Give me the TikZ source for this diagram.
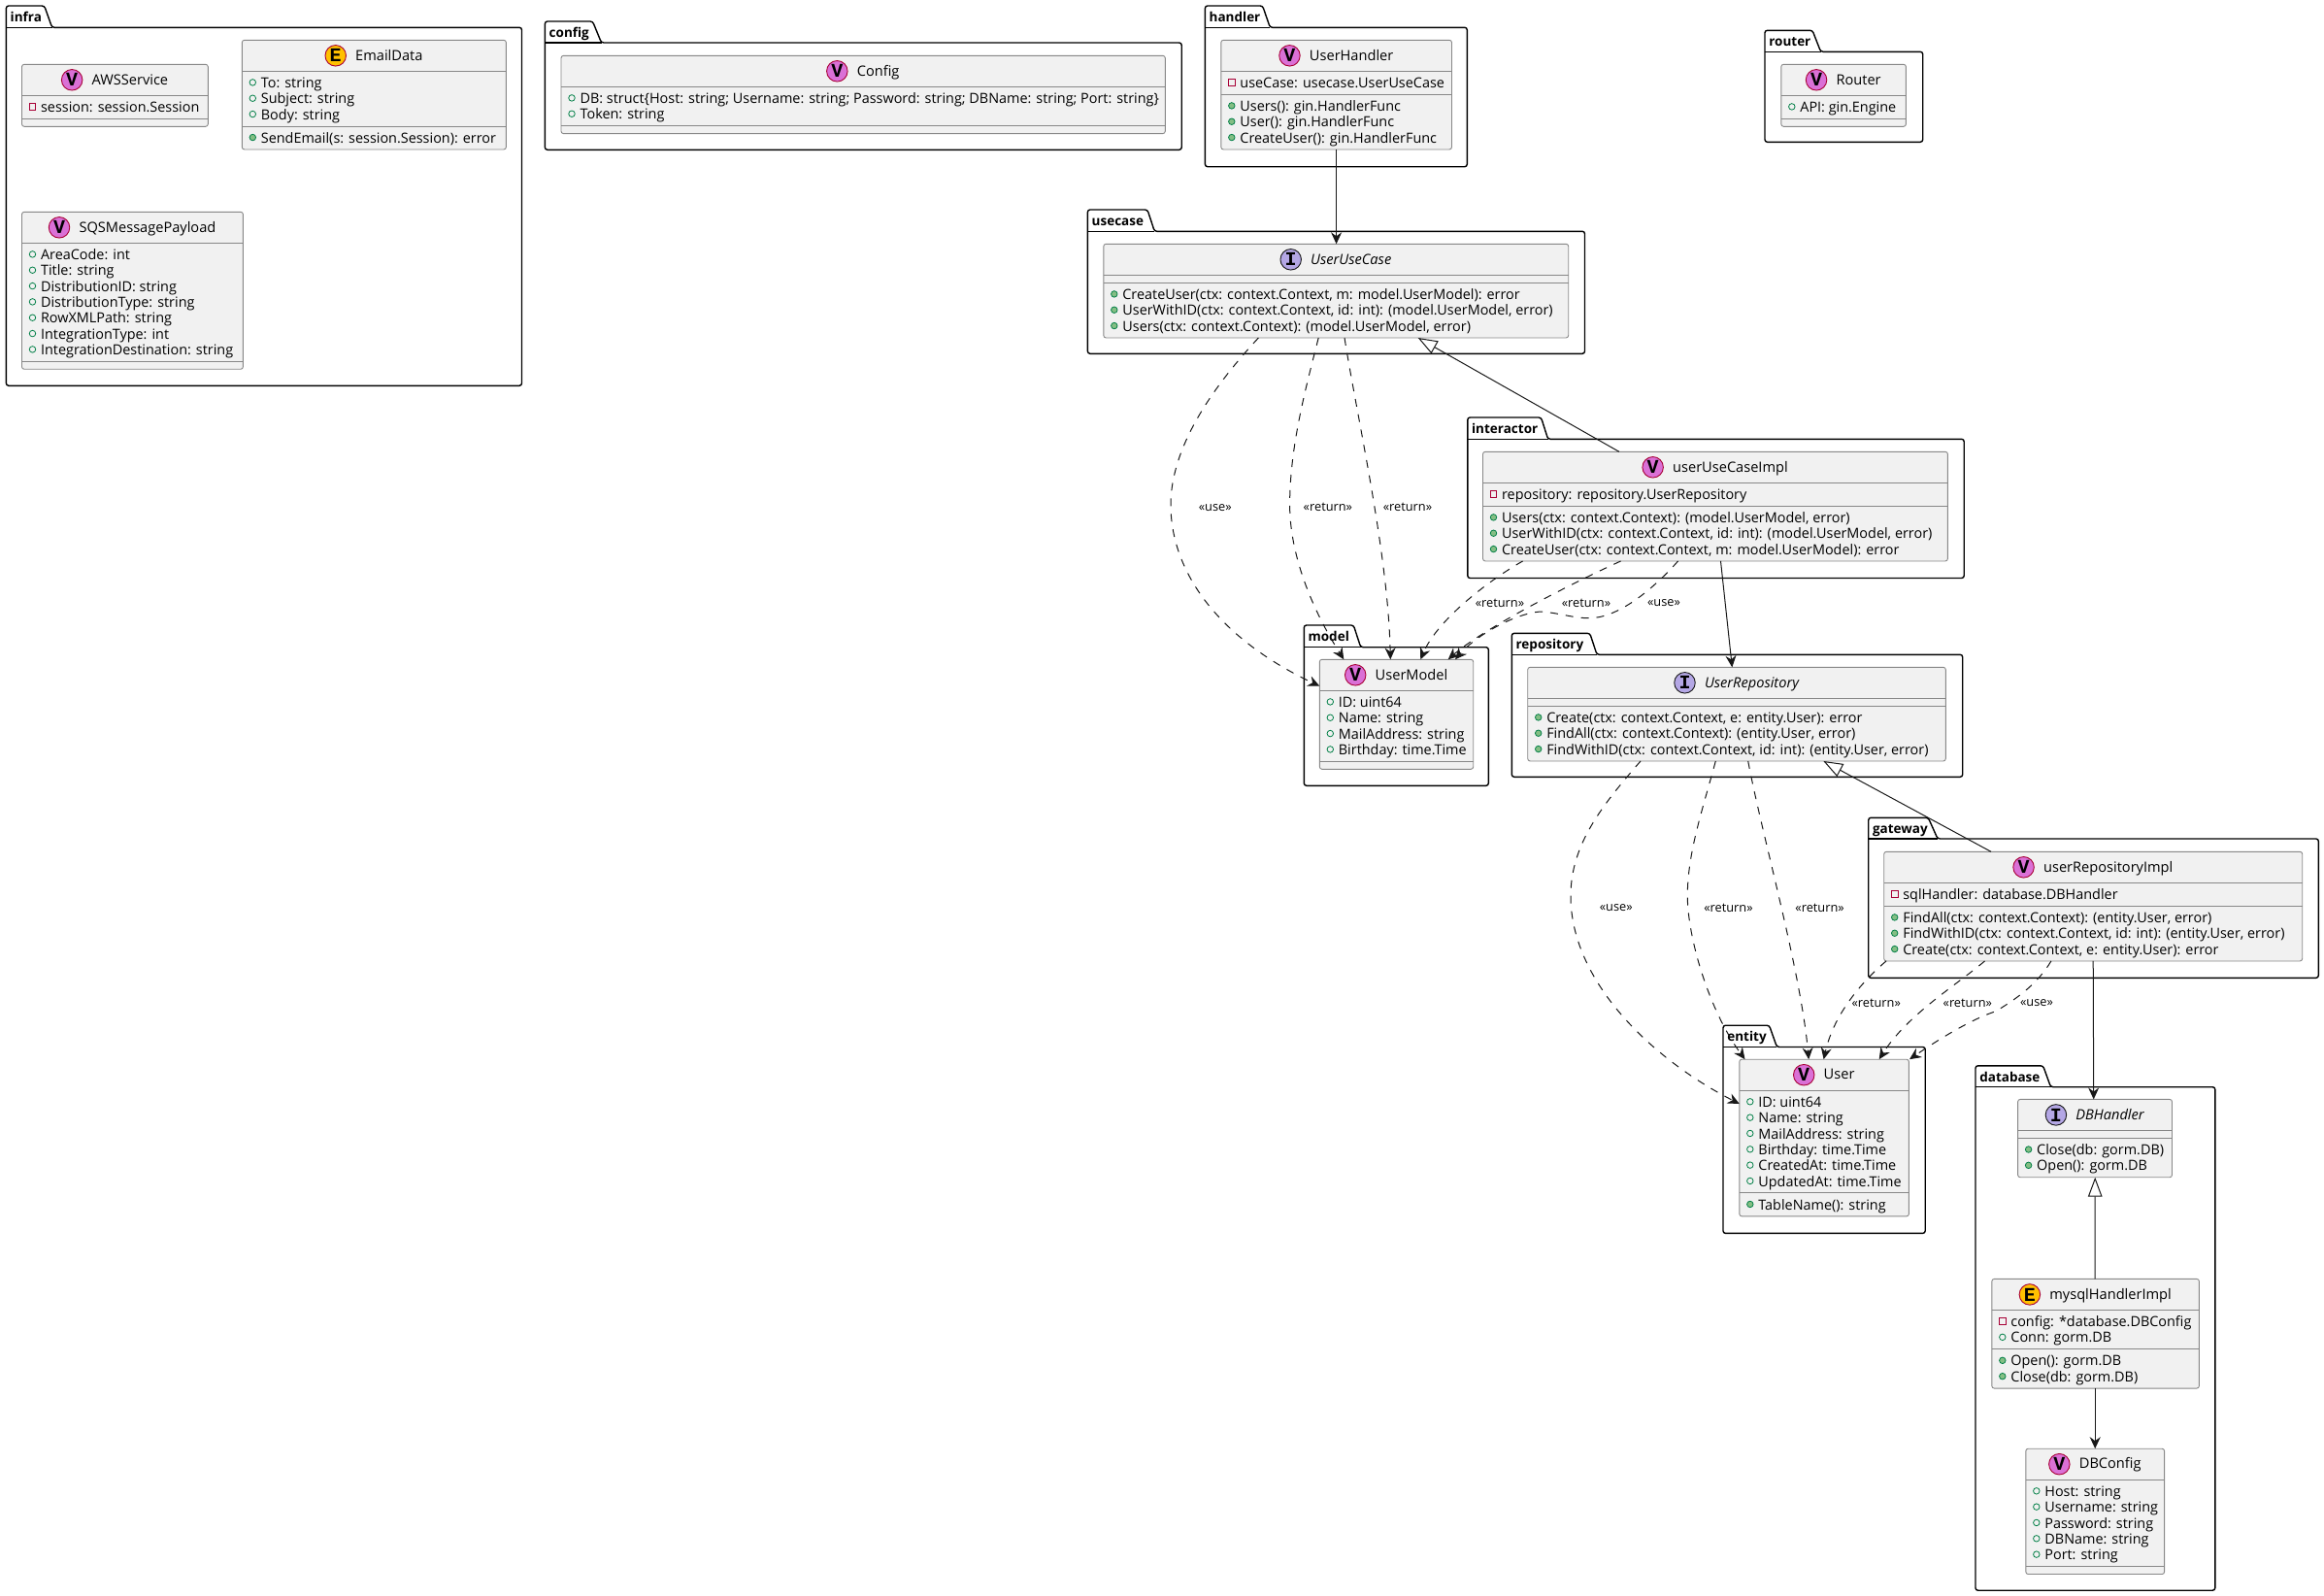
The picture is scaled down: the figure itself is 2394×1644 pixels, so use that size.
\documentclass[tikz,border=0pt]{standalone}
\usepackage{fontspec}
\setmainfont{Open Sans}
\newfontfamily\iconfont{Liberation Mono}
\usetikzlibrary{arrows.meta}
\definecolor{ink}{HTML}{181818}
\definecolor{boxfill}{HTML}{F1F1F1}
\definecolor{boxline}{HTML}{888888}
\definecolor{spotV}{HTML}{DA70D6}
\definecolor{spotE}{HTML}{FFC000}
\definecolor{spotI}{HTML}{B4A7E5}
\definecolor{spotlineV}{HTML}{A80036}
\definecolor{spotlineE}{HTML}{A80036}
\definecolor{spotlineI}{HTML}{181818}
\definecolor{privline}{HTML}{A80036}
\definecolor{publine}{HTML}{038048}
\definecolor{pubfill}{HTML}{84BE84}
\newcommand\memberfont{\fontsize{14.4pt}{16pt}\selectfont}
\newcommand\titlefont{\fontsize{14.6pt}{17pt}\selectfont}
\newcommand\pkgfont{\fontsize{13.5pt}{17pt}\selectfont\bfseries}
\newcommand\tagfont{\fontsize{12.8pt}{14pt}\selectfont}
\tikzset{
  x=1pt,y=-1pt,
  classbox/.style={draw=boxline,fill=boxfill,line width=0.9pt,rounded corners=2.5pt,inner sep=0pt,outer sep=0pt,anchor=north west},
  sepline/.style={draw=boxline,line width=0.9pt},
  spot/.style={circle,line width=0.9pt,minimum size=21.5pt,inner sep=0pt,outer sep=0pt,font=\iconfont\bfseries\fontsize{20pt}{20pt}\selectfont,text=black},
  rowtext/.style={anchor=base west,inner sep=0pt,outer sep=0pt,font=\memberfont,text=black},
  titletext/.style={anchor=base,inner sep=0pt,outer sep=0pt,font=\titlefont,text=black},
  pubfield/.style={circle,draw=publine,line width=0.8pt,minimum size=6.5pt,inner sep=0pt},
  pubmethod/.style={circle,draw=publine,fill=pubfill,line width=0.8pt,minimum size=6.5pt,inner sep=0pt},
  privfield/.style={rectangle,draw=privline,line width=0.8pt,minimum size=6.5pt,inner sep=0pt},
  pkgline/.style={draw=black,line width=1.4pt,rounded corners=2.5pt,fill=white},
  pkgrule/.style={draw=black,line width=1.4pt},
  pkgtext/.style={anchor=base west,inner sep=0pt,outer sep=0pt,font=\pkgfont,text=black},
  tagtext/.style={inner sep=0pt,outer sep=0pt,font=\tagfont,text=black},
  rel/.style={draw=ink,line width=1pt,-{Stealth[length=12pt,width=11pt,inset=4pt]}},
  dep/.style={rel,dash pattern=on 8pt off 8pt},
  inh/.style={draw=ink,line width=1pt,{Triangle[open,fill=white,length=20pt,width=14.6pt]}-},
}
\newcount\rowno
% {name}{x0}{x1}{ytop}{spot letter}{title}{n attrs}{n methods}{rows}
\newcommand\umlclass[9]{%
  \pgfmathsetmacro\cxa{#2}\pgfmathsetmacro\cxb{#3}\pgfmathsetmacro\cyt{#4}%
  \pgfmathsetmacro\cyh{\cyt+32}%
  \pgfmathsetmacro\cys{\cyh+(#7==0?8:#7*16.33+7.67)}%
  \pgfmathsetmacro\cyb{\cys+(#8==0?8:#8*16.33+7.67)}%
  \pgfmathsetmacro\cw{\cxb-\cxa}\pgfmathsetmacro\ch{\cyb-\cyt}%
  \xdef\cname{#1}\global\rowno=0
  \node[classbox,minimum width=\cw pt,minimum height=\ch pt] (#1) at (\cxa,\cyt) {};
  \draw[sepline] (\cxa,\cyh) -- (\cxb,\cyh);
  \draw[sepline] (\cxa,\cys) -- (\cxb,\cys);
  \pgfmathsetmacro\cmid{(\cxa+\cxb)/2+15.5}%
  \pgfmathsetmacro\cyz{\cyt+20.7}%
  \node[titletext] (#1-t) at (\cmid,\cyz) {\spotstyle{#5}#6};
  \node[spot,fill=spot#5,draw=spotline#5] (#1-s) at ([xshift=-20.5pt]#1-t.base west |- {0,\cyt+16}) {#5};
  \pgfmathsetmacro\rowy{\cyh+17.2}\xdef\rowy{\rowy}%
  #9%
}
\newcommand\spotstyle[1]{\ifx#1I\itshape\fi}
\newcommand\meths{\pgfmathsetmacro\rowy{\cys+17.2}\xdef\rowy{\rowy}}
\newcommand\rowitem[2]{%
  \global\advance\rowno by 1
  \pgfmathsetmacro\rowx{\cxa+19.6}\pgfmathsetmacro\markx{\cxa+11}\pgfmathsetmacro\marky{\rowy-5.6}%
  \node[#1] (\cname-m\the\rowno) at (\markx,\marky) {};
  \node[rowtext] (\cname-r\the\rowno) at (\rowx,\rowy) {#2};
  \pgfmathsetmacro\rowy{\rowy+16.33}\xdef\rowy{\rowy}%
}
\newcommand\pub[1]{\rowitem{pubfield}{#1}}
\newcommand\pri[1]{\rowitem{privfield}{#1}}
\newcommand\mth[1]{\rowitem{pubmethod}{#1}}
% {name}{left}{tabtop}{bodytop}{right}{bottom}{tab top right}{tab bottom right}
\newcommand\umlpkg[8]{%
  \draw[pkgline] (#2,#4) -- (#2,#3) -- (#7,#3) -- (#8,#4) -- (#5,#4) -- (#5,#6) -- (#2,#6) -- cycle;
  \draw[pkgrule] (#2,#4) -- (#8,#4);
  \node[pkgtext] (pkg-#1) at ({#2+4.3},{#3+16.3}) {#1};
}
\begin{document}
\begin{tikzpicture}
\useasboundingbox (0,0) rectangle (2394,1644);
% packages
\umlpkg{infra}{6.4}{6}{28.3}{537.5}{397.3}{45.7}{53.6}
\umlpkg{config}{561.4}{22}{44}{1217.2}{154.3}{610.5}{619.5}
\umlpkg{handler}{1241.4}{6}{28.3}{1511.3}{171.7}{1300.6}{1308.3}
\umlpkg{router}{1818}{31.3}{53.3}{1980.7}{146.3}{1867}{1875.6}
\umlpkg{usecase}{1120.4}{216}{238.3}{1632.5}{364.3}{1182}{1189.3}
\umlpkg{interactor}{1511.8}{430}{452.3}{2023.2}{595.5}{1587.5}{1594.6}
\umlpkg{model}{1343.3}{644}{666.7}{1533.3}{809.3}{1394.3}{1401.7}
\umlpkg{repository}{1557.3}{652.3}{674.3}{2021.7}{800.3}{1637.7}{1645}
\umlpkg{gateway}{1924.7}{842.3}{864}{2388.3}{1007.3}{1986.3}{1996}
\umlpkg{entity}{1775}{1056.2}{1078.5}{1983.2}{1270.4}{1822.5}{1830.4}
\umlpkg{database}{2035}{1097.8}{1119.7}{2281.8}{1638.2}{2104.6}{2112.5}
% classes
\umlclass{aws}{22.5}{214.3}{66.3}{V}{AWSService}{1}{0}{\pri{session: session.Session}}
\umlclass{email}{249.3}{521.4}{41.3}{E}{EmailData}{3}{1}{\pub{To: string}\pub{Subject: string}\pub{Body: string}\meths\mth{SendEmail(s: session.Session): error}}
\umlclass{sqs}{22.5}{250.4}{218.3}{V}{SQSMessagePayload}{7}{0}{\pub{AreaCode: int}\pub{Title: string}\pub{DistributionID: string}\pub{DistributionType: string}\pub{RowXMLPath: string}\pub{IntegrationType: int}\pub{IntegrationDestination: string}}
\umlclass{cfg}{578}{1200.3}{57.3}{V}{Config}{2}{0}{\pub{DB: struct\{Host: string; Username: string; Password: string; DBName: string; Port: string\}}\pub{Token: string}}
\umlclass{uh}{1257.8}{1495.5}{41.3}{V}{UserHandler}{1}{3}{\pri{useCase: usecase.UserUseCase}\meths\mth{Users(): gin.HandlerFunc}\mth{User(): gin.HandlerFunc}\mth{CreateUser(): gin.HandlerFunc}}
\umlclass{rt}{1834.8}{1963.4}{66.3}{V}{Router}{1}{0}{\pub{API: gin.Engine}}
\umlclass{uc}{1136.8}{1615.7}{251.3}{I}{UserUseCase}{0}{3}{\meths\mth{CreateUser(ctx: context.Context, m: model.UserModel): error}\mth{UserWithID(ctx: context.Context, id: int): (model.UserModel, error)}\mth{Users(ctx: context.Context): (model.UserModel, error)}}
\umlclass{uci}{1527.5}{2006.4}{465.3}{V}{userUseCaseImpl}{1}{3}{\pri{repository: repository.UserRepository}\meths\mth{Users(ctx: context.Context): (model.UserModel, error)}\mth{UserWithID(ctx: context.Context, id: int): (model.UserModel, error)}\mth{CreateUser(ctx: context.Context, m: model.UserModel): error}}
\umlclass{um}{1359.3}{1517.7}{679.3}{V}{UserModel}{4}{0}{\pub{ID: uint64}\pub{Name: string}\pub{MailAddress: string}\pub{Birthday: time.Time}}
\umlclass{ur}{1573.7}{2004.3}{687.3}{I}{UserRepository}{0}{3}{\meths\mth{Create(ctx: context.Context, e: entity.User): error}\mth{FindAll(ctx: context.Context): (entity.User, error)}\mth{FindWithID(ctx: context.Context, id: int): (entity.User, error)}}
\umlclass{uri}{1940.7}{2371.7}{877.3}{V}{userRepositoryImpl}{1}{3}{\pri{sqlHandler: database.DBHandler}\meths\mth{FindAll(ctx: context.Context): (entity.User, error)}\mth{FindWithID(ctx: context.Context, id: int): (entity.User, error)}\mth{Create(ctx: context.Context, e: entity.User): error}}
\umlclass{ue}{1791.8}{1966.4}{1091.2}{V}{User}{6}{1}{\pub{ID: uint64}\pub{Name: string}\pub{MailAddress: string}\pub{Birthday: time.Time}\pub{CreatedAt: time.Time}\pub{UpdatedAt: time.Time}\meths\mth{TableName(): string}}
\umlclass{db}{2078.6}{2237.5}{1132.4}{I}{DBHandler}{0}{2}{\meths\mth{Close(db: gorm.DB)}\mth{Open(): gorm.DB}}
\umlclass{my}{2051.8}{2265.4}{1317.4}{E}{mysqlHandlerImpl}{2}{2}{\pri{config: *database.DBConfig}\pub{Conn: gorm.DB}\meths\mth{Open(): gorm.DB}\mth{Close(db: gorm.DB)}}
\umlclass{dc}{2086.8}{2229.6}{1492.2}{V}{DBConfig}{5}{0}{\pub{Host: string}\pub{Username: string}\pub{Password: string}\pub{DBName: string}\pub{Port: string}}
% plain associations
\draw[rel] ([xshift=118.8pt]uh.south west) -- ([xshift=239.8pt]uc.north west);
\draw[rel] ([xshift=245pt]uci.south west) -- ([xshift=210.6pt]ur.north west);
\draw[rel] ([xshift=215.5pt]uri.south west) -- ([xshift=78.1pt]db.north west);
\draw[rel] ([xshift=106.4pt]my.south west) -- ([xshift=71.4pt]dc.north west);
% generalisations
\draw[inh] ([xshift=323.9pt]uc.south west) -- ([xshift=140.4pt]uci.north west);
\draw[inh] ([xshift=304.6pt]ur.south west) -- ([xshift=110.3pt]uri.north west);
\draw[inh] ([xshift=79.6pt]db.south west) -- ([xshift=106.4pt]my.north west);
% dependencies: usecase to model
\draw[dep] ([xshift=159.6pt]uc.south west) .. controls (1250,398) and (1206,460) .. (1206,520) .. controls (1206,585) and (1250,655) .. ([yshift=-27.4pt]um.north west);
\draw[dep] ([xshift=221.4pt]uc.south west) .. controls (1345,400) and (1328.6,460) .. (1328.6,520) .. controls (1328.6,570) and (1350,625) .. ([xshift=25pt]um.north west);
\draw[dep] ([xshift=248.2pt]uc.south west) .. controls (1398,430) and (1430,570) .. ([xshift=73pt]um.north west);
% dependencies: interactor to model
\draw[dep] ([xshift=41.1pt]uci.south west) .. controls (1530,600) and (1480,640) .. ([xshift=104pt]um.north west);
\draw[dep] ([xshift=142.1pt]uci.south west) .. controls (1610,605) and (1525,650) .. ([xshift=132.4pt]um.north west);
\draw[dep] ([xshift=201.1pt]uci.south west) .. controls (1700,610) and (1665,637) .. (1636.7,636.7) .. controls (1620,636.7) and (1605,631) .. (1586.7,630) .. controls (1560,632) and (1520,655) .. ([xshift=139.7pt]um.north west);
% dependencies: repository to entity
\draw[dep] ([xshift=116.3pt]ur.south west) .. controls (1650,830) and (1618,870) .. (1618,923) .. controls (1618,1010) and (1700,1090) .. ([yshift=-45.8pt]ue.north west);
\draw[dep] ([xshift=193.6pt]ur.south west) .. controls (1752,840) and (1738.3,880) .. (1738.3,923) .. controls (1738.3,965) and (1760,1040) .. ([xshift=5.7pt]ue.north west);
\draw[dep] ([xshift=227pt]ur.south west) .. controls (1815,860) and (1855,1000) .. ([xshift=71.4pt]ue.north west);
% dependencies: gateway to entity
\draw[dep] ([xshift=2.3pt]uri.south west) .. controls (1925,1005) and (1890,1040) .. ([xshift=86.8pt]ue.north west);
\draw[dep] ([xshift=103.8pt]uri.south west) .. controls (2015,1015) and (1965,1045) .. ([xshift=143.9pt]ue.north west);
\draw[dep] ([xshift=172.2pt]uri.south west) .. controls (2098,1015) and (2075,1030) .. (2055.9,1041.7) .. controls (2030,1050) and (1995,1072) .. ([xshift=175.2pt]ue.north west);
% stereotype labels
\node[tagtext] (l1) at (1251.8,522.7) {«use»};
\node[tagtext] (l2) at (1367.9,522.7) {«return»};
\node[tagtext] (l3) at (1450,522.7) {«return»};
\node[tagtext] (l4) at (1545,621) {«return»};
\node[tagtext] (l5) at (1634,621) {«return»};
\node[tagtext] (l6) at (1714,621) {«use»};
\node[tagtext] (l7) at (1664.8,935) {«use»};
\node[tagtext] (l8) at (1780.5,935) {«return»};
\node[tagtext] (l9) at (1874.6,935) {«return»};
\node[tagtext] (l10) at (1932.7,1033) {«return»};
\node[tagtext] (l11) at (2026.8,1033) {«return»};
\node[tagtext] (l12) at (2098,1033) {«use»};
\end{tikzpicture}
\end{document}
